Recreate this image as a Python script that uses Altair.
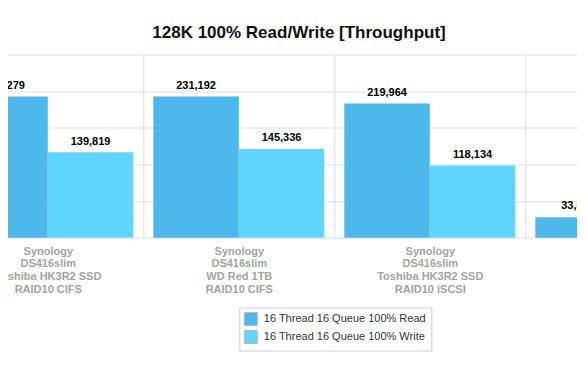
import altair as alt
import pandas as pd

groups = [
    "Synology|DS416slim|Toshiba HK3R2 SSD|RAID10 CIFS",
    "Synology|DS416slim|WD Red 1TB|RAID10 CIFS",
    "Synology|DS416slim|Toshiba HK3R2 SSD|RAID10 iSCSI",
    "Synology|DS416slim|WD Red 1TB|RAID10 iSCSI",
]
series = ["16 Thread 16 Queue 100% Read", "16 Thread 16 Queue 100% Write"]
read_values = [231279, 231192, 219964, 33636]
write_values = [139819, 145336, 118134, 31208]
y_ticks = [0, 60000, 120000, 180000, 240000, 300000]
colors = ["#4db9ea", "#62d5fe"]
title_text = "128K 100% Read/Write [Throughput]"

rows = []
for g, r, w in zip(groups, read_values, write_values):
    rows.append({"group": g, "series": series[0], "value": r})
    rows.append({"group": g, "series": series[1], "value": w})
df = pd.DataFrame(rows)

FONT = "Liberation Sans"

x = alt.X(
    "group:N", sort=groups, title=None,
    scale=alt.Scale(paddingInner=0, paddingOuter=0),
    axis=alt.Axis(
        labelExpr="split(datum.label, '|')", labelAngle=0, ticks=False,
        domain=False, grid=True, tickBand="extent", gridColor="#dddddd",
        labelColor="#a3a3a3", labelFont=FONT, labelFontSize=11,
        labelFontWeight="bold", labelLineHeight=12.7, labelPadding=7.5,
        labelBaseline="top", labelLimit=300,
    ),
)
xo = alt.XOffset("series:N", sort=series,
                 scale=alt.Scale(paddingOuter=0.117, paddingInner=0))
y = alt.Y(
    "value:Q", title=None,
    scale=alt.Scale(domain=[0, 300000], nice=False),
    axis=alt.Axis(values=y_ticks, labels=False, ticks=False, domain=False,
                  gridColor="#dddddd"),
)
color = alt.Color(
    "series:N", sort=series,
    scale=alt.Scale(domain=series, range=colors),
    legend=alt.Legend(
        title=None, orient="none", legendX=287, legendY=253,
        symbolType="square", symbolSize=169, symbolStrokeColor="#bbbbbb",
        symbolStrokeWidth=1, labelFont=FONT, labelFontSize=11,
        labelColor="#333333", labelLimit=300, labelOffset=6,
        padding=4.5, rowPadding=0, strokeColor="#cccccc",
        fillColor="#ffffff",
    ),
)

bars = alt.Chart(df).mark_bar().encode(x=x, xOffset=xo, y=y, color=color)
labels = alt.Chart(df).mark_text(
    font=FONT, fontSize=11, fontWeight="bold", baseline="alphabetic",
    dy=-7.7, color="#000000",
).encode(x=x, xOffset=xo, y=y, text=alt.Text("value:Q", format=",d"))

chart = alt.layer(bars, labels).properties(
    width=764, height=183.2,
    autosize=alt.AutoSizeParams(type="none"),
    padding={"left": -55.7, "top": 46.5, "right": -139.3, "bottom": 131.3},
    title=alt.Title(title_text, font=FONT, fontSize=17, fontWeight="bold",
                    color="#111111", anchor="middle", dx=-35.3, offset=13),
).configure_view(stroke=None)

chart.save("out.html", embed_options={"renderer": "svg", "actions": False})
